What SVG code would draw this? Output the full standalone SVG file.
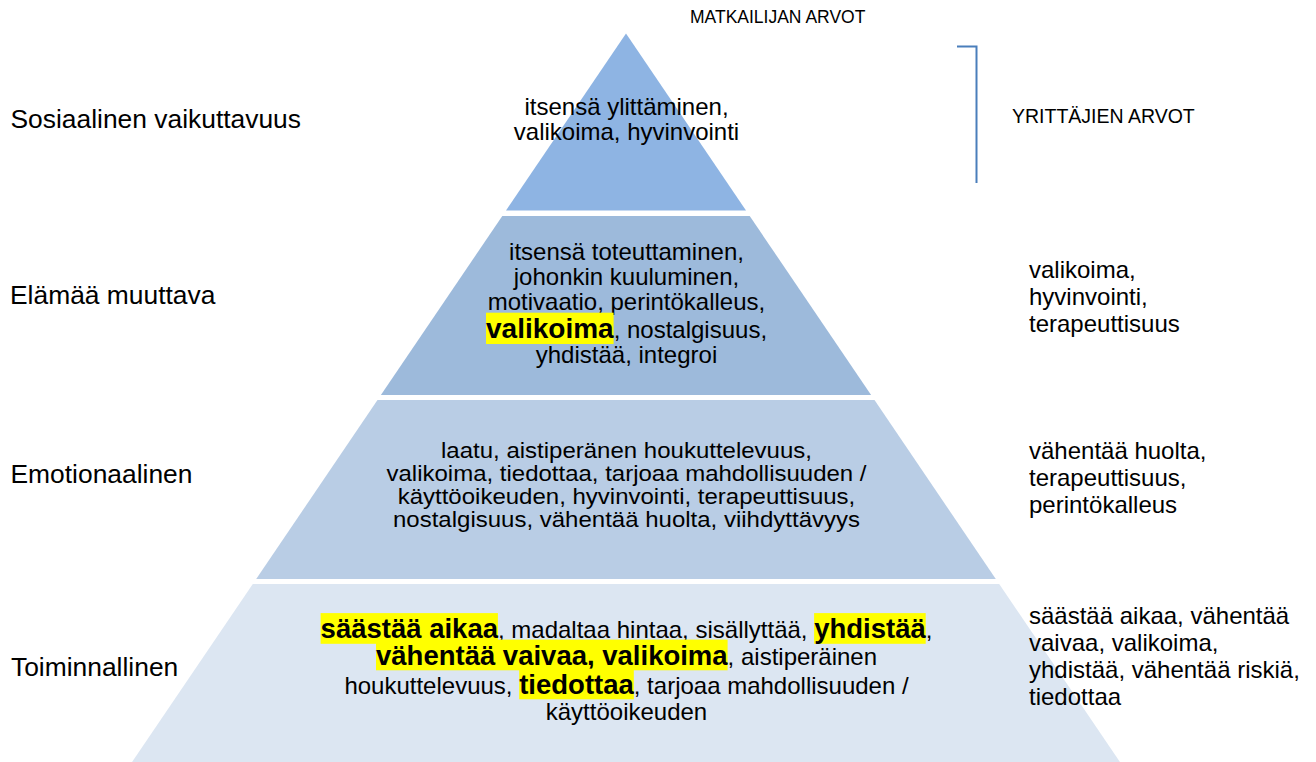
<svg xmlns="http://www.w3.org/2000/svg" width="1316" height="762" viewBox="0 0 1316 762">
  <style>
    text { font-family: "Liberation Sans", Arial, sans-serif; fill: #000; }
    .lbl { font-size: 26.4px; }
    .body { font-size: 24px; }
    .tight { font-size: 22.5px; }
    .mid { text-anchor: middle; }
    .b { font-weight: bold; font-size: 28px; }
    .b2 { font-weight: bold; font-size: 27.5px; }
    .cap { font-size: 17.5px; }
    .cap2 { font-size: 19.5px; }
    .hl { fill: #FFFF00; }
  </style>

  <rect width="1316" height="762" fill="#FFFFFF"/>

  <!-- pyramid tiers, top to bottom -->
  <g id="tier-social">
    <polygon points="626,33.5 746,210.5 506,210.5" fill="#8EB4E3"/>
    <text class="body mid" x="626.5" y="115">itsensä ylittäminen,</text>
    <text class="body mid" x="626.5" y="140">valikoima, hyvinvointi</text>
  </g>

  <g id="tier-life">
    <polygon points="502.3,216 749.7,216 871.1,395 380.9,395" fill="#9DBADB"/>
    <text class="body mid" x="626.5" y="260">itsensä toteuttaminen,</text>
    <text class="body mid" x="626.5" y="285">johonkin kuuluminen,</text>
    <text class="body mid" x="626.5" y="310">motivaatio, perintökalleus,</text>
    <rect class="hl" x="486" y="312.7" width="127.6" height="31.3"/>
    <text class="body" x="486" y="338"><tspan class="b">valikoima</tspan>, nostalgisuus,</text>
    <text class="body mid" x="626.5" y="363">yhdistää, integroi</text>
  </g>

  <g id="tier-emotional">
    <polygon points="377.5,400 874.5,400 995.8,579 256.2,579" fill="#B9CDE5"/>
    <text class="tight mid" x="626.5" y="458" textLength="371" lengthAdjust="spacingAndGlyphs">laatu, aistiperänen houkuttelevuus,</text>
    <text class="tight mid" x="626.5" y="481" textLength="480" lengthAdjust="spacingAndGlyphs">valikoima, tiedottaa, tarjoaa mahdollisuuden /</text>
    <text class="tight mid" x="626.5" y="504" textLength="457.6" lengthAdjust="spacingAndGlyphs">käyttöoikeuden, hyvinvointi, terapeuttisuus,</text>
    <text class="tight mid" x="626.5" y="527" textLength="467" lengthAdjust="spacingAndGlyphs">nostalgisuus, vähentää huolta, viihdyttävyys</text>
  </g>

  <g id="tier-functional">
    <polygon points="252.8,584 999.2,584 1121.3,764 130.7,764" fill="#DCE6F2"/>
    <rect class="hl" x="320.6" y="613.1" width="177.3" height="30.7"/>
    <rect class="hl" x="814.1" y="613.1" width="111.6" height="30.7"/>
    <text class="body" x="320.6" y="638"><tspan class="b2">säästää aikaa</tspan>, madaltaa hintaa, sisällyttää, <tspan class="b2">yhdistää</tspan>,</text>
    <rect class="hl" x="376" y="639.6" width="351.6" height="30.7"/>
    <text class="body" x="376" y="664.5"><tspan class="b2">vähentää vaivaa, valikoima</tspan>, aistiperäinen</text>
    <rect class="hl" x="519.2" y="668.6" width="114.6" height="30.7"/>
    <text class="body" x="344.4" y="693.5">houkuttelevuus, <tspan class="b2">tiedottaa</tspan>, tarjoaa mahdollisuuden /</text>
    <text class="body mid" x="626.5" y="720">käyttöoikeuden</text>
  </g>

  <!-- tier names on the left -->
  <g id="tier-names">
    <text class="lbl" x="10.5" y="128">Sosiaalinen vaikuttavuus</text>
    <text class="lbl" x="10" y="304">Elämää muuttava</text>
    <text class="lbl" x="10.5" y="483">Emotionaalinen</text>
    <text class="lbl" x="11" y="676">Toiminnallinen</text>
  </g>

  <!-- column headings -->
  <g id="headings">
    <text class="cap" x="690" y="23">MATKAILIJAN ARVOT</text>
    <text class="cap2" x="1012" y="123">YRITTÄJIEN ARVOT</text>
  </g>

  <!-- entrepreneur values per tier -->
  <g id="entrepreneur-life">
    <text class="body" x="1029" y="278">valikoima,</text>
    <text class="body" x="1029" y="305">hyvinvointi,</text>
    <text class="body" x="1029" y="332">terapeuttisuus</text>
  </g>
  <g id="entrepreneur-emotional">
    <text class="body" x="1029" y="459">vähentää huolta,</text>
    <text class="body" x="1029" y="486">terapeuttisuus,</text>
    <text class="body" x="1029" y="513">perintökalleus</text>
  </g>
  <g id="entrepreneur-functional">
    <text class="body" x="1029" y="624">säästää aikaa, vähentää</text>
    <text class="body" x="1029" y="651">vaivaa, valikoima,</text>
    <text class="body" x="1029" y="678">yhdistää, vähentää riskiä,</text>
    <text class="body" x="1029" y="705">tiedottaa</text>
  </g>

  <g id="connectors">
    <polyline points="957,46.5 976.5,46.5 976.5,183" fill="none" stroke="#4A7EBB" stroke-width="2"/>
  </g>
</svg>
